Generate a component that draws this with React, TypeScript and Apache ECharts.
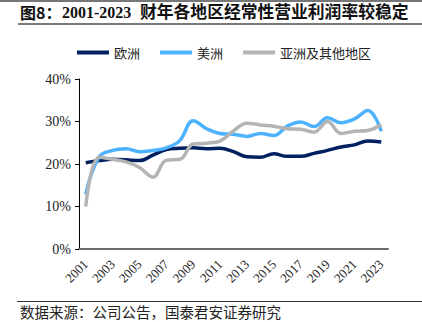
import React, { useEffect, useRef } from "react";
import * as echarts from "echarts";

const years = [
  "2001", "2002", "2003", "2004", "2005", "2006", "2007", "2008", "2009", "2010", "2011", "2012",
  "2013", "2014", "2015", "2016", "2017", "2018", "2019", "2020", "2021", "2022", "2023",
];
const europe = [20.3, 20.8, 21.1, 21.0, 20.8, 22.1, 23.4, 23.7, 23.8, 23.6, 23.7, 22.9, 21.7, 21.6, 22.4, 21.8, 21.8, 22.5, 23.2, 24.0, 24.5, 25.4, 25.2];
const america = [12.9, 21.7, 23.2, 23.6, 22.9, 23.2, 23.8, 25.5, 30.2, 28.3, 27.2, 27.0, 26.5, 27.2, 26.7, 28.9, 29.9, 28.8, 30.9, 29.7, 30.6, 32.6, 27.7];
const asia = [10.0, 21.6, 21.1, 20.5, 19.2, 16.9, 20.9, 21.1, 24.7, 24.9, 25.4, 27.8, 29.6, 29.2, 28.9, 28.3, 28.2, 27.5, 30.0, 27.2, 27.7, 27.9, 29.3];
const seriesNames = ["欧洲", "美洲", "亚洲及其他地区"];
const titlePrefix = "图8：";
const titleYears = "2001-2023";
const titleRest = "财年各地区经常性营业利润率较稳定";
const sourceText = "数据来源：公司公告，国泰君安证券研究";

const SERIF = "'Liberation Serif', 'Times New Roman', 'Noto Sans CJK SC', serif";
const CJK = "'Noto Sans CJK SC', 'Liberation Serif', serif";

export default function App() {
  const ref = useRef<HTMLDivElement>(null);
  useEffect(() => {
    if (!ref.current) return;
    const chart = echarts.init(ref.current, null, { renderer: "svg" });
    const colors = ["#002060", "#4DB3FF", "#B4B4B4"];
    const datas = [europe, america, asia];
    chart.setOption({
      animation: false,
      color: colors,
      grid: { left: 79, right: 34, top: 79, bottom: 73, containLabel: false },
      legend: {
        left: 72,
        top: 41,
        itemWidth: 32,
        itemHeight: 4,
        itemGap: 20,
        icon: "rect",
        textStyle: { fontFamily: CJK, fontSize: 13, color: "#222" },
        data: seriesNames,
      },
      xAxis: {
        type: "category",
        data: years,
        boundaryGap: true,
        axisLine: { lineStyle: { color: "#6b6b6b", width: 2 } },
        axisTick: { show: false },
        axisLabel: {
          interval: 1,
          rotate: 45,
          margin: 13,
          fontFamily: SERIF,
          fontSize: 13,
          color: "#222",
        },
        splitLine: { show: false },
      },
      yAxis: {
        type: "value",
        min: 0,
        max: 40,
        interval: 10,
        axisLine: { show: true, lineStyle: { color: "#000", width: 1 } },
        axisTick: { show: true, length: 4, lineStyle: { color: "#000" } },
        axisLabel: {
          formatter: "{value}%",
          fontFamily: SERIF,
          fontSize: 14,
          color: "#222",
          margin: 8,
        },
        splitLine: { show: false },
      },
      series: seriesNames.map((n, i) => ({
        name: n,
        type: "line",
        data: datas[i],
        smooth: 0.4,
        showSymbol: false,
        symbol: "none",
        lineStyle: { width: 3.5, color: colors[i] },
      })),
      graphic: [
        { type: "rect", shape: { x: 0, y: 0, width: 422, height: 2 }, style: { fill: "#777" } },
        {
          type: "text",
          left: 20,
          top: 4,
          style: { text: titlePrefix, font: `bold 16px ${CJK}`, fill: "#111" },
        },
        {
          type: "text",
          left: 62,
          top: 4,
          style: { text: titleYears, font: `bold 16px ${SERIF}`, fill: "#111" },
        },
        {
          type: "text",
          left: 140,
          top: 3,
          style: { text: titleRest, font: `bold 16.8px ${CJK}`, fill: "#111" },
        },
        { type: "rect", shape: { x: 18, y: 23, width: 404, height: 2 }, style: { fill: "#7a7a7a" } },
        { type: "rect", shape: { x: 17, y: 301, width: 405, height: 1 }, style: { fill: "#333" } },
        {
          type: "text",
          left: 20,
          top: 304,
          style: { text: sourceText, font: `14.5px ${CJK}`, fill: "#222" },
        },
      ],
    });
    return () => chart.dispose();
  }, []);
  return (
    <div
      ref={ref}
      style={{ position: "fixed", left: 0, top: 0, width: 422, height: 322, background: "#fff" }}
    />
  );
}
